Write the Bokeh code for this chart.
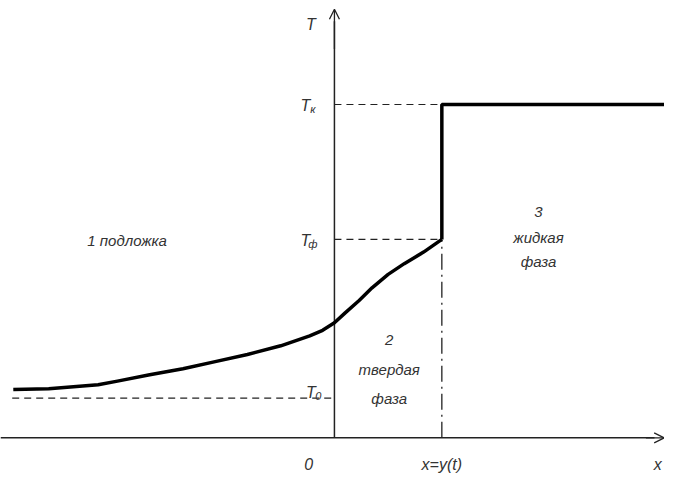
from bokeh.plotting import figure
from bokeh.models import Range1d, Arrow, OpenHead
from bokeh.core.properties import value
from bokeh.embed import file_html
from bokeh.resources import INLINE

# ---- data (schematic units) ----
x_interface = 1.0           # x = y(t)
T0, Tf, Tk = 1.0, 5.0, 8.4  # temperature levels
x_left, x_right = -3.0, 3.07
T_top = 10.8

curve_x = [-2.99, -2.66, -2.2, -2.02, -1.72, -1.41, -1.11, -0.81, -0.5, -0.23, -0.11, 0.0,
           0.1, 0.23, 0.35, 0.5, 0.65, 0.83, 1.0]
curve_T = [1.22, 1.24, 1.34, 1.43, 1.59, 1.74, 1.92, 2.10, 2.32, 2.57, 2.71, 2.90,
           3.15, 3.46, 3.78, 4.12, 4.39, 4.68, 5.0]

region_labels = ["1 подложка", "2", "твердая", "фаза", "3", "жидкая", "фаза"]
region_x = [-1.93, 0.51, 0.51, 0.51, 1.9, 1.9, 1.9]
region_T = [4.98, 2.46, 1.72, 1.0, 5.7, 5.06, 4.44]

FONT = value("Liberation Sans")
COL = "#333333"

p = figure(width=664, height=478, output_backend="svg", toolbar_location=None,
           x_range=Range1d(-3.109, 3.073), y_range=Range1d(-1.024, 11.02),
           min_border=0, outline_line_color=None)
p.axis.visible = False
p.grid.visible = False

# axes
p.segment(x0=[-3.109], y0=[0], x1=[2.98], y1=[0], line_color="#222222", line_width=1.5)
p.segment(x0=[0], y0=[0], x1=[0], y1=[T_top - 0.3], line_color="#222222", line_width=1.5)
p.add_layout(Arrow(end=OpenHead(size=10, line_width=1.3, line_color="#222222"),
                   x_start=0, y_start=9.8, x_end=0, y_end=T_top,
                   line_color="#222222", line_width=1.3))
p.add_layout(Arrow(end=OpenHead(size=10, line_width=1.3, line_color="#222222"),
                   x_start=2.9, y_start=0, x_end=x_right, y_end=0,
                   line_color="#222222", line_width=1.3))

# dashed levels
p.segment(x0=[0, 0, x_left], y0=[Tk, Tf, T0], x1=[x_interface, x_interface, 0], y1=[Tk, Tf, T0],
          line_color="#222222", line_width=1.2, line_dash="7 5")
# dash-dot interface
p.segment(x0=[x_interface], y0=[0], x1=[x_interface], y1=[Tf],
          line_color="#222222", line_width=1.3, line_dash="16 5 2 5")

# temperature profile
p.line(curve_x, curve_T, line_color="black", line_width=3.5, line_join="round")
p.line([x_interface, x_interface, x_right + 0.1], [Tf, Tk, Tk], line_color="black", line_width=3.5)

# region labels
p.text(x=region_x, y=region_T, text=region_labels, text_font=FONT, text_font_style="italic",
       text_font_size="15px", text_color=COL, text_align="center", text_baseline="middle")

# axis labels
p.text(x=[-0.22, -0.24, x_interface, 3.01], y=[10.42, -0.66, -0.66, -0.66],
       text=["T", "0", "x=y(t)", "x"], text_font=FONT, text_font_style="italic",
       text_font_size="16px", text_color=COL, text_align="center", text_baseline="middle")
# level labels T with subscripts
p.text(x=[-0.27, -0.27, -0.22], y=[Tk - 0.03, Tf - 0.03, T0 + 0.15], text=["T", "T", "T"],
       text_font=FONT, text_font_style="italic", text_font_size="16px", text_color=COL,
       text_align="center", text_baseline="middle")
p.text(x=[-0.20, -0.20, -0.15], y=[Tk - 0.12, Tf - 0.12, T0 + 0.05], text=["к", "ф", "0"],
       text_font=FONT, text_font_style="italic", text_font_size="11px", text_color=COL,
       text_align="center", text_baseline="middle")

open("out.html", "w").write(file_html(p, INLINE))
